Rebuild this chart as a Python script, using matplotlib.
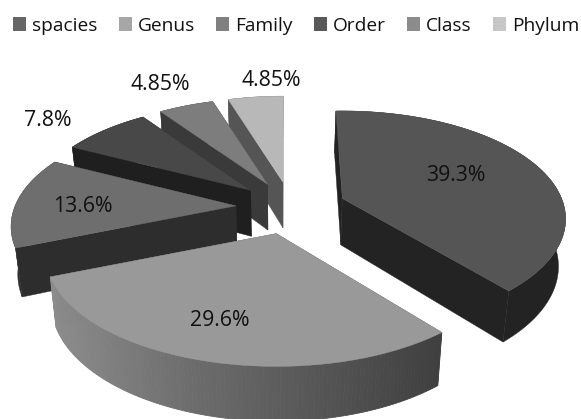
import numpy as np
import matplotlib
matplotlib.use("Agg")
import matplotlib.pyplot as plt
from matplotlib.patches import Patch

categories = ["spacies", "Genus", "Family", "Order", "Class", "Phylum"]
values = [39.3, 29.6, 13.6, 7.8, 4.85, 4.85]
labels = ["39.3%", "29.6%", "13.6%", "7.8%", "4.85%", "4.85%"]

top_colors = ["#555555", "#999999", "#6e6e6e", "#484848", "#7d7d7d", "#b8b8b8"]
wall_colors = ["#232323", "#555555", "#2d2d2d", "#1f1f1f", "#3a3a3a", "#555555"]
legend_colors = ["#666666", "#a6a6a6", "#808080", "#595959", "#8c8c8c", "#c6c6c6"]
label_xy = [(456, 175.5), (220, 320.5), (83, 206.5), (48, 120), (160, 85), (271, 80)]
tilt_deg = [-2, 0, 0, 0, 0, 0]

FONT = "Open Sans"
CX, CY, RX, RY, K, EXPLODE = 291.0, 207.0, 221.0, 105.0, 0.19, 0.25

fig = plt.figure(figsize=(5.81, 4.19), dpi=100)
ax = fig.add_axes([0, 0, 1, 1])
ax.set_xlim(0, 581)
ax.set_ylim(419, 0)
ax.axis("off")


def project(theta, ox, oy, s):
    u, v = np.sin(theta), np.cos(theta)
    w = 1 + K * v
    return ox + s * RX * u / w, oy - s * RY * v / w


def lower(x, y):
    return 280 + (x - 280) * 0.975, y + 46 + (y - 190) * 0.05


fractions = np.array(values) / np.sum(values)
edges = np.concatenate([[0], np.cumsum(fractions)]) * 2 * np.pi

for i in [5, 4, 3, 2, 0, 1]:
    t0, t1 = edges[i], edges[i + 1]
    mid = (t0 + t1) / 2
    du, dv = np.sin(mid), np.cos(mid)
    w = 1 + K * EXPLODE * dv
    ox = CX + RX * EXPLODE * du / w
    oy = CY - RY * EXPLODE * dv / w
    scale = 1 - 0.025 * dv

    th = np.linspace(t0, t1, 120) + np.radians(tilt_deg[i])
    ax_, ay_ = project(th, ox, oy, scale)
    bx_, by_ = lower(ax_, ay_)
    lox, loy = lower(ox, oy)

    # radial cut faces
    for j in (-1, 0):
        ax.fill([ox, ax_[j], bx_[j], lox], [oy, ay_[j], by_[j], loy],
                color=wall_colors[i], lw=0.3, zorder=1)
    # rim
    if i == 1:
        shade = np.interp(ax_, [50, 200, 330, 440], [0.55, 0.42, 0.33, 0.25])
        for s in range(len(th) - 1):
            ax.fill([ax_[s], ax_[s + 1], bx_[s + 1], bx_[s]],
                    [ay_[s], ay_[s + 1], by_[s + 1], by_[s]],
                    color=str(shade[s]), lw=0.6, zorder=1)
    else:
        ax.fill(np.r_[ax_, bx_[::-1]], np.r_[ay_, by_[::-1]],
                color=wall_colors[i], lw=0.3, zorder=1)
    # top
    ax.fill(np.r_[ox, ax_], np.r_[oy, ay_], color=top_colors[i], lw=0.3, zorder=1)

for (x, y), s in zip(label_xy, labels):
    ax.text(x, y, s, ha="center", va="center", fontsize=15.3, family=FONT,
            color="#111111", zorder=5)

handles = [Patch(facecolor=c, edgecolor="none", label=n)
           for c, n in zip(legend_colors, categories)]
ax.legend(handles=handles, ncol=6, loc="center left", bbox_to_anchor=(13, 26),
          bbox_transform=ax.transData,
          frameon=False, prop={"family": FONT, "size": 13.8},
          handlelength=0.68, handleheight=0.73, handletextpad=0.3,
          columnspacing=1.12, borderpad=0.0, borderaxespad=0.0, labelcolor="#111111")

fig.savefig("out.png", dpi=100, facecolor="white")
